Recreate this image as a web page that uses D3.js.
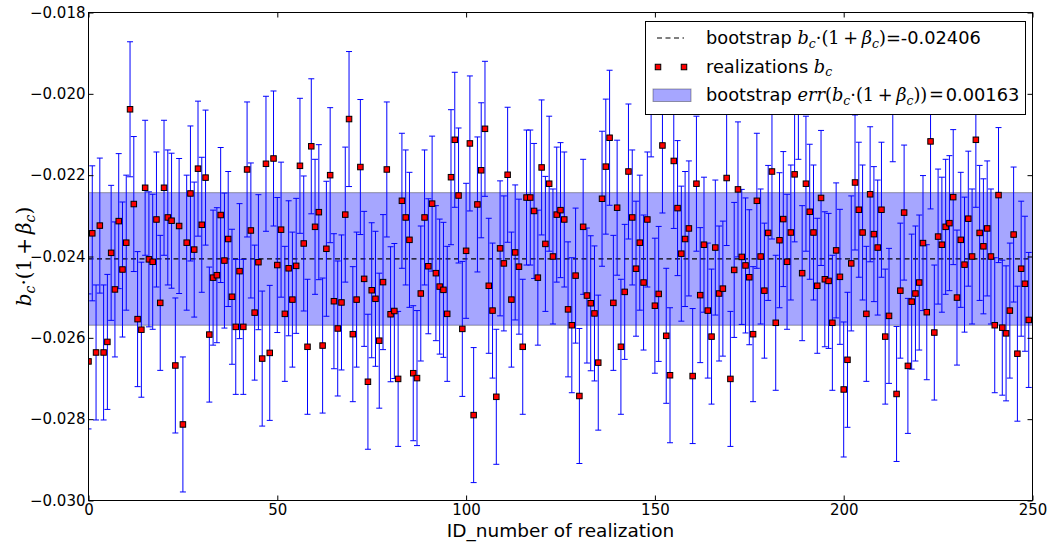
<!DOCTYPE html>
<html lang="en">
<head>
<meta charset="UTF-8">
<title>b_c realizations</title>
<script src="https://d3js.org/d3.v7.min.js"></script>
<style>
  body { margin: 0; background: #fff; }
  svg { display: block; }
  .tick text { font-family: "DejaVu Sans", sans-serif; font-size: 15px; fill: #000; }
  .tick line { stroke: #000; }
</style>
</head>
<body>
<svg id="chart" width="1052" height="543"></svg>
<script>
// realization values b_c*(1+beta_c) (ID 0..249)
const bcValues = [
 -0.02658,-0.02343,-0.02636,-0.02324,-0.02636,-0.02610,-0.02391,-0.02481,-0.02313,-0.02432,
 -0.02366,-0.02038,-0.02271,-0.02554,-0.02580,-0.02231,-0.02407,-0.02413,-0.02309,-0.02514,
 -0.02231,-0.02304,-0.02312,-0.02668,-0.02325,-0.02813,-0.02366,-0.02245,-0.02383,-0.02184,
 -0.02322,-0.02206,-0.02592,-0.02452,-0.02446,-0.02298,-0.02410,-0.02357,-0.02499,-0.02573,
 -0.02436,-0.02573,-0.02186,-0.02336,-0.02538,-0.02414,-0.02651,-0.02172,-0.02637,-0.02159,
 -0.02421,-0.02334,-0.02541,-0.02429,-0.02506,-0.02423,-0.02177,-0.02368,-0.02622,-0.02129,
 -0.02327,-0.02291,-0.02619,-0.02381,-0.02200,-0.02510,-0.02577,-0.02513,-0.02297,-0.02062,
 -0.02591,-0.02506,-0.02180,-0.02455,-0.02708,-0.02483,-0.02504,-0.02607,-0.02463,-0.02186,
 -0.02542,-0.02534,-0.02701,-0.02263,-0.02304,-0.02359,-0.02687,-0.02699,-0.02491,-0.02304,
 -0.02424,-0.02270,-0.02441,-0.02474,-0.02482,-0.02541,-0.02205,-0.02113,-0.02250,-0.02578,
 -0.02386,-0.02122,-0.02790,-0.02272,-0.02188,-0.02086,-0.02472,-0.02533,-0.02745,-0.02380,
 -0.02417,-0.02199,-0.02506,-0.02390,-0.02425,-0.02622,-0.02255,-0.02255,-0.02288,-0.02452,
 -0.02181,-0.02369,-0.02221,-0.02400,-0.02297,-0.02286,-0.02309,-0.02530,-0.02569,-0.02447,
 -0.02743,-0.02327,-0.02496,-0.02515,-0.02540,-0.02661,-0.02258,-0.02179,-0.02108,-0.02514,
 -0.02280,-0.02622,-0.02487,-0.02191,-0.02304,-0.02430,-0.02366,-0.02464,-0.02309,-0.01989,
 -0.02521,-0.02492,-0.02127,-0.02595,-0.02692,-0.02165,-0.02281,-0.02393,-0.02357,-0.02331,
 -0.02694,-0.02221,-0.02495,-0.02371,-0.02533,-0.02597,-0.02378,-0.02491,-0.02479,-0.02207,
 -0.02701,-0.02433,-0.02235,-0.02401,-0.02422,-0.02451,-0.02591,-0.02263,-0.02400,-0.02484,
 -0.02342,-0.02191,-0.02563,-0.02360,-0.02308,-0.02413,-0.02341,-0.02198,-0.01995,-0.02441,
 -0.02221,-0.02290,-0.02341,-0.02472,-0.02256,-0.02456,-0.02460,-0.02563,-0.02385,-0.02450,
 -0.02727,-0.02654,-0.02417,-0.02218,-0.02285,-0.02341,-0.02541,-0.02247,-0.02345,-0.02378,
 -0.02285,-0.02597,-0.02546,-0.02001,-0.02738,-0.02484,-0.02292,-0.02669,-0.02511,-0.02491,
 -0.02464,-0.02367,-0.02537,-0.02117,-0.02587,-0.02351,-0.02371,-0.02327,-0.02318,-0.02254,
 -0.02501,-0.02359,-0.02420,-0.02307,-0.02400,-0.02113,-0.02342,-0.02375,-0.02331,-0.02400,
 -0.02569,-0.02249,-0.02575,-0.02589,-0.02533,-0.02346,-0.02639,-0.02430,-0.02467,-0.02556
];
const bcErr = 0.00166;            // half length of each error bar
const bootstrapMean = -0.02406;
const bootstrapErr = 0.00163;

const xTicks = [0, 50, 100, 150, 200, 250];
const yTicks = [-0.030, -0.028, -0.026, -0.024, -0.022, -0.020, -0.018];

const sans = "'DejaVu Sans', sans-serif";
const serif = "'DejaVu Serif', 'Liberation Serif', serif";

const svg = d3.select("#chart");
const pl = 88.5, pr = 1032.5, pt = 12.5, pb = 500.5;

const x = d3.scaleLinear().domain([0, 250]).range([pl, pr]);
const y = d3.scaleLinear().domain([-0.030, -0.018]).range([pb, pt]);

const data = bcValues.map((v, i) => ({ id: i, v: v }));

// clip for plot area
svg.append("defs").append("clipPath").attr("id", "plotclip")
  .append("rect").attr("x", pl).attr("y", pt)
  .attr("width", pr - pl).attr("height", pb - pt);

const plot = svg.append("g").attr("clip-path", "url(#plotclip)");

// bootstrap error band
plot.append("rect")
  .attr("x", pl).attr("width", pr - pl)
  .attr("y", y(bootstrapMean + bootstrapErr))
  .attr("height", y(bootstrapMean - bootstrapErr) - y(bootstrapMean + bootstrapErr))
  .attr("fill", "#0000ff").attr("fill-opacity", 0.35)
  .attr("stroke", "#000").attr("stroke-opacity", 0.35).attr("stroke-width", 1);

// bootstrap mean
plot.append("line")
  .attr("x1", pl).attr("x2", pr)
  .attr("y1", y(bootstrapMean)).attr("y2", y(bootstrapMean))
  .attr("stroke", "#000").attr("stroke-width", 1.2)
  .attr("stroke-dasharray", "5,3.5");

// error bars
const bars = plot.append("g").attr("stroke", "#0000ff").attr("stroke-width", 1);
bars.selectAll("line.bar").data(data).enter().append("line")
  .attr("class", "bar")
  .attr("x1", d => x(d.id)).attr("x2", d => x(d.id))
  .attr("y1", d => y(d.v + bcErr)).attr("y2", d => y(d.v - bcErr));
bars.selectAll("line.capt").data(data).enter().append("line")
  .attr("class", "capt")
  .attr("x1", d => x(d.id) - 3).attr("x2", d => x(d.id) + 3)
  .attr("y1", d => y(d.v + bcErr)).attr("y2", d => y(d.v + bcErr));
bars.selectAll("line.capb").data(data).enter().append("line")
  .attr("class", "capb")
  .attr("x1", d => x(d.id) - 3).attr("x2", d => x(d.id) + 3)
  .attr("y1", d => y(d.v - bcErr)).attr("y2", d => y(d.v - bcErr));

// realizations
const ms = 5.5;
plot.selectAll("rect.pt").data(data).enter().append("rect")
  .attr("class", "pt")
  .attr("x", d => x(d.id) - ms / 2).attr("y", d => y(d.v) - ms / 2)
  .attr("width", ms).attr("height", ms)
  .attr("fill", "#ff0000").attr("stroke", "#000").attr("stroke-width", 1);

// axes, ticks pointing inward
const fmt = d3.format(".3f");
svg.append("g").attr("transform", `translate(${pl},0)`)
  .call(d3.axisLeft(y).tickValues(yTicks).tickFormat(fmt).tickSizeInner(-5).tickSizeOuter(0).tickPadding(3))
  .call(g => g.select(".domain").remove());
svg.append("g").attr("transform", `translate(${pr},0)`)
  .call(d3.axisRight(y).tickValues(yTicks).tickFormat("").tickSizeInner(-5).tickSizeOuter(0))
  .call(g => g.select(".domain").remove());
svg.append("g").attr("transform", `translate(0,${pb})`)
  .call(d3.axisBottom(x).tickValues(xTicks).tickFormat(d3.format("d")).tickSizeInner(-5).tickSizeOuter(0).tickPadding(4))
  .call(g => g.select(".domain").remove());
svg.append("g").attr("transform", `translate(0,${pt})`)
  .call(d3.axisTop(x).tickValues(xTicks).tickFormat("").tickSizeInner(-5).tickSizeOuter(0))
  .call(g => g.select(".domain").remove());

svg.append("rect")
  .attr("x", pl).attr("y", pt).attr("width", pr - pl).attr("height", pb - pt)
  .attr("fill", "none").attr("stroke", "#000").attr("stroke-width", 1);

// text helper for mathtext-like labels
function addMath(textSel, parts, size) {
  let shift = 0;
  parts.forEach(([t, k]) => {
    const ts = textSel.append("tspan").text(t);
    let target = 0;
    if (k === "sub") { target = size * 0.22; ts.attr("font-size", size * 0.7); }
    ts.attr("dy", target - shift);
    shift = target;
    ts.attr("font-family", k === "s" ? sans : serif)
      .attr("font-style", (k === "i" || k === "sub") ? "italic" : "normal");
  });
}

// axis labels
svg.append("text")
  .attr("x", (pl + pr) / 2).attr("y", 537)
  .attr("text-anchor", "middle")
  .attr("font-family", sans).attr("font-size", 18.5)
  .text("ID_number of realization");

const ylab = svg.append("text")
  .attr("transform", `translate(31,${(pt + pb) / 2}) rotate(-90)`)
  .attr("text-anchor", "middle").attr("font-size", 20);
addMath(ylab, [["b", "i"], ["c", "sub"], ["\u00b7", "r"], ["(1\u2009+\u2009", "r"], ["\u03b2", "i"], ["c", "sub"], [")", "r"]], 20);

// legend
const lg = svg.append("g");
lg.append("rect")
  .attr("x", 645.5).attr("y", 21.5).attr("width", 380).attr("height", 93)
  .attr("fill", "#fff").attr("stroke", "#000").attr("stroke-width", 1);

lg.append("line")
  .attr("x1", 657).attr("x2", 684).attr("y1", 38).attr("y2", 38)
  .attr("stroke", "#000").attr("stroke-width", 1.2).attr("stroke-dasharray", "5,3.5");
lg.selectAll("rect.lm").data([658, 684]).enter().append("rect")
  .attr("class", "lm")
  .attr("x", d => d - ms / 2).attr("y", 67 - ms / 2).attr("width", ms).attr("height", ms)
  .attr("fill", "#ff0000").attr("stroke", "#000");
lg.append("rect")
  .attr("x", 653).attr("y", 89).attr("width", 38).attr("height", 12.5)
  .attr("fill", "#0000ff").attr("fill-opacity", 0.35)
  .attr("stroke", "#000").attr("stroke-opacity", 0.35);

const lsize = 17.8;
const l1 = lg.append("text").attr("x", 706).attr("y", 44).attr("font-size", lsize);
addMath(l1, [["bootstrap ", "s"], ["b", "i"], ["c", "sub"], ["\u00b7", "r"], ["(1\u2009+\u2009", "r"],
  ["\u03b2", "i"], ["c", "sub"], [")", "r"], ["=" + bootstrapMean.toFixed(5), "s"]], lsize);
const l2 = lg.append("text").attr("x", 706).attr("y", 72.5).attr("font-size", lsize);
addMath(l2, [["realizations ", "s"], ["b", "i"], ["c", "sub"]], lsize);
const l3 = lg.append("text").attr("x", 706).attr("y", 101).attr("font-size", lsize);
addMath(l3, [["bootstrap ", "s"], ["err", "i"], ["(", "r"], ["b", "i"], ["c", "sub"], ["\u00b7", "r"],
  ["(1\u2009+\u2009", "r"], ["\u03b2", "i"], ["c", "sub"], ["))\u200a=\u200a", "r"], [bootstrapErr.toFixed(5), "s"]], lsize);
</script>
</body>
</html>
